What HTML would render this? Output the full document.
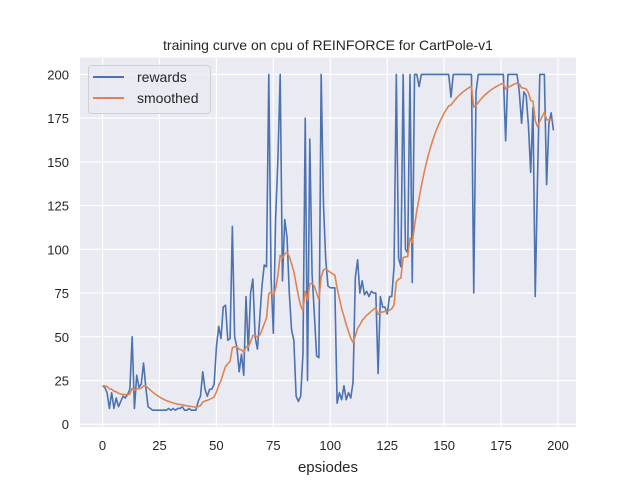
<!DOCTYPE html>
<html><head><meta charset="utf-8"><style>
body{margin:0;background:#fff;}
svg text{font-family:"Liberation Sans","DejaVu Sans",sans-serif;fill:#262626;}
</style></head><body>
<svg id="chart" width="640" height="480" viewBox="0 0 640 480">
<rect x="0" y="0" width="640" height="480" fill="#fff"/>
<rect x="80" y="57.6" width="496" height="369.6" fill="#EAEAF2"/>
<g id="grid"></g>
<g id="series"></g>
<g id="ticks"></g>
<text x="328" y="50" text-anchor="middle" font-size="14">training curve on cpu of REINFORCE for CartPole-v1</text>
<text x="328" y="472" text-anchor="middle" font-size="15">epsiodes</text>
<g>
<rect x="88.5" y="65.5" width="122" height="48" rx="3" fill="#EAEAF2" fill-opacity="0.8" stroke="#d0d0d0"/>
<line x1="93" y1="77" x2="124" y2="77" stroke="#4C72B0" stroke-width="2"/>
<text x="137" y="82" font-size="14">rewards</text>
<line x1="93" y1="98" x2="124" y2="98" stroke="#DD8452" stroke-width="2"/>
<text x="137" y="103" font-size="14">smoothed</text>
</g>
</svg>
<script>
const xTicks=[0,25,50,75,100,125,150,175,200];
const yTicks=[0,25,50,75,100,125,150,175,200];
const rewards=[22,21,18,9,18,9,15,10,13,16,15,17,20,50,9,28,21,23,35,21,
10,9,8,8,8,8,8,8,8,9,8,9,8,9,9,10,8,8,9,8,
8,8,13,16,30,20,16,20,20,23,44,56,49,67,68,48,49,113,50,44,
30,40,28,73,42,75,83,50,43,60,79,91,90,200,84,52,118,151,200,82,
117,107,75,54,48,16,13,16,40,175,25,163,86,63,39,38,200,126,94,79,
78,78,78,12,18,14,22,14,18,15,24,84,94,75,82,74,76,73,76,75,
75,29,73,67,67,63,73,73,90,200,95,90,200,100,98,200,81,200,200,193,
200,200,200,200,200,200,200,200,200,200,200,200,200,187,200,200,200,200,200,200,
200,200,200,75,190,200,200,200,200,200,200,200,200,200,200,200,200,162,200,200,
200,200,200,190,172,190,188,171,144,181,73,140,200,200,200,137,172,178,168];
const alpha=0.1;
const smoothed=[];
rewards.forEach((v,i)=>smoothed.push(i===0?v:smoothed[i-1]*(1-alpha)+v*alpha));
const X0=80,X1=576,Y0=427.2,Y1=57.6,xmin=-9.9,xmax=207.9,ymin=-1.7,ymax=209.6;
const sx=v=>X0+(v-xmin)/(xmax-xmin)*(X1-X0);
const sy=v=>Y0-(v-ymin)/(ymax-ymin)*(Y0-Y1);
const NS='http://www.w3.org/2000/svg';
const grid=document.getElementById('grid'),ticks=document.getElementById('ticks'),series=document.getElementById('series');
function mk(tag,attrs,parent){const e=document.createElementNS(NS,tag);for(const k in attrs)e.setAttribute(k,attrs[k]);parent.appendChild(e);return e;}
xTicks.forEach(t=>{
 const l=mk('line',{x1:sx(t),x2:sx(t),y1:Y1,y2:Y0,stroke:'#fff','stroke-width':1.2},grid);
 
 
 const tx=mk('text',{x:sx(t),y:450,'text-anchor':'middle','font-size':13},ticks);
 tx.textContent=t;
 
 
});
yTicks.forEach(t=>{
 const l=mk('line',{x1:X0,x2:X1,y1:sy(t),y2:sy(t),stroke:'#fff','stroke-width':1.2},grid);
 
 
 const tx=mk('text',{x:69,y:sy(t)+5,'text-anchor':'end','font-size':13},ticks);
 tx.textContent=t;
 
 
});
function line(arr,color,name){
 const d=arr.map((v,i)=>(i?'L':'M')+sx(i).toFixed(2)+','+sy(v).toFixed(2)).join('');
 const p=mk('path',{d:d,fill:'none',stroke:color,'stroke-width':1.6,'stroke-linejoin':'round'},series);
 
 
}
line(rewards,'#4C72B0','rewards-line');
line(smoothed,'#DD8452','smoothed-line');
</script>
</body></html>
